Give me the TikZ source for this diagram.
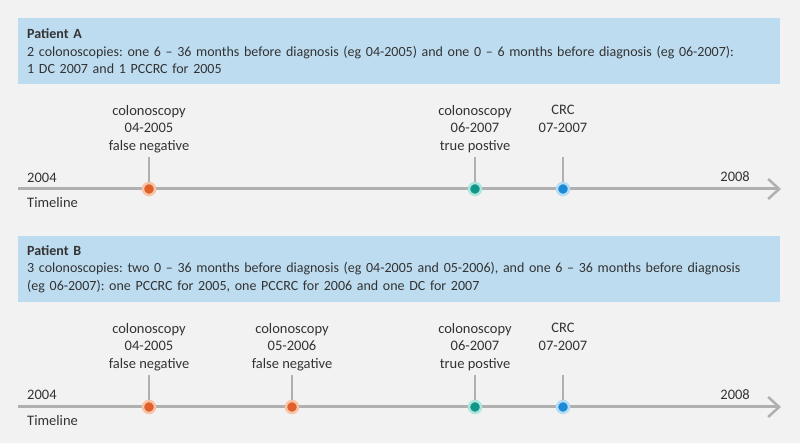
\documentclass[tikz,border=0pt]{standalone}
\usepackage{fontspec}
\setmainfont{Carlito}
\usetikzlibrary{arrows.meta}
\frenchspacing

\definecolor{bggrey}{HTML}{F2F2F2}
\definecolor{boxblue}{HTML}{BDDCF0}
\definecolor{textgrey}{HTML}{333333}
\definecolor{linegrey}{HTML}{B0B0B0}
\definecolor{fnorange}{HTML}{E0602B}
\definecolor{fnhalo}{HTML}{F8C4A6}
\definecolor{tpteal}{HTML}{11968A}
\definecolor{tphalo}{HTML}{AEE6DE}
\definecolor{crcblue}{HTML}{1C8AD6}
\definecolor{crchalo}{HTML}{B7DDF5}

\tikzset{
  patientbox/.style={fill=boxblue, anchor=north west, minimum width=762pt,
    minimum height=66pt, text width=744pt, inner xsep=9pt, align=left,
    text=textgrey, font=\fontsize{14}{17.5}\selectfont},
  eventlabel/.style={anchor=north, align=center, inner sep=0pt, text=textgrey,
    font=\fontsize{14.5}{17.5}\selectfont},
  yearlabel/.style={inner sep=0pt, text=textgrey, font=\fontsize{14.5}{17}\selectfont},
  timeline/.style={draw=linegrey, line width=3pt,
    -{Straight Barb[length=11pt, width=20pt, line width=2.5pt]}},
  tickline/.style={draw=linegrey, line width=2pt},
  eventdot/.style={circle, inner sep=0pt, minimum size=12pt, line width=2.5pt},
  falseneg/.style={eventdot, fill=fnorange, draw=fnhalo},
  truepos/.style={eventdot, fill=tpteal, draw=tphalo},
  crcdot/.style={eventdot, fill=crcblue, draw=crchalo}
}

\begin{document}
\begin{tikzpicture}[x=1pt, y=1pt]
    \fill[bggrey] (0,0) rectangle (800,443);
    \useasboundingbox (0,0) rectangle (800,443);

    % Patient A
    \node[patientbox] (boxA) at (18,425) {\textbf{Patient A}\\
        2 colonoscopies: one 6 -- 36 months before diagnosis (eg 04-2005) and one 0 -- 6 months before diagnosis (eg 06-2007):\\
        1 DC 2007 and 1 PCCRC for 2005};

    \coordinate (startA) at (18,254);
    \coordinate (endA) at (781,254);
    \draw[timeline] (startA) -- (endA);
    \node[yearlabel, anchor=west] (yearA1) at (27,265) {2004};
    \node[yearlabel, anchor=east] (yearA2) at (750,266) {2008};
    \node[yearlabel, anchor=west] (timeA) at (27,240) {Timeline};

    \node[eventlabel] (labA1) at (149,338) {colonoscopy\\04-2005\\false negative};
    \node[eventlabel] (labA2) at (475,338) {colonoscopy\\06-2007\\true postive};
    \node[eventlabel] (labA3) at (563,338) {CRC\\07-2007};

    \coordinate (tickA1) at (149,286);
    \coordinate (tickA2) at (475,286);
    \coordinate (tickA3) at (563,286);
    \node[falseneg] (dotA1) at (149,254) {};
    \node[truepos] (dotA2) at (475,254) {};
    \node[crcdot] (dotA3) at (563,254) {};
    \draw[tickline] (tickA1) -- (dotA1);
    \draw[tickline] (tickA2) -- (dotA2);
    \draw[tickline] (tickA3) -- (dotA3);

    % Patient B
    \node[patientbox] (boxB) at (18,207) {\textbf{Patient B}\\
        3 colonoscopies: two 0 -- 36 months before diagnosis (eg 04-2005 and 05-2006), and one 6 -- 36 months before diagnosis\\
        (eg 06-2007): one PCCRC for 2005, one PCCRC for 2006 and one DC for 2007};

    \coordinate (startB) at (18,36);
    \coordinate (endB) at (781,36);
    \draw[timeline] (startB) -- (endB);
    \node[yearlabel, anchor=west] (yearB1) at (27,48) {2004};
    \node[yearlabel, anchor=east] (yearB2) at (750,48) {2008};
    \node[yearlabel, anchor=west] (timeB) at (27,22) {Timeline};

    \node[eventlabel] (labB1) at (149,120) {colonoscopy\\04-2005\\false negative};
    \node[eventlabel] (labB2) at (292,120) {colonoscopy\\05-2006\\false negative};
    \node[eventlabel] (labB3) at (475,120) {colonoscopy\\06-2007\\true postive};
    \node[eventlabel] (labB4) at (563,120) {CRC\\07-2007};

    \coordinate (tickB1) at (149,68);
    \coordinate (tickB2) at (292,68);
    \coordinate (tickB3) at (475,68);
    \coordinate (tickB4) at (563,68);
    \node[falseneg] (dotB1) at (149,36) {};
    \node[falseneg] (dotB2) at (292,36) {};
    \node[truepos] (dotB3) at (475,36) {};
    \node[crcdot] (dotB4) at (563,36) {};
    \draw[tickline] (tickB1) -- (dotB1);
    \draw[tickline] (tickB2) -- (dotB2);
    \draw[tickline] (tickB3) -- (dotB3);
    \draw[tickline] (tickB4) -- (dotB4);
\end{tikzpicture}
\end{document}
